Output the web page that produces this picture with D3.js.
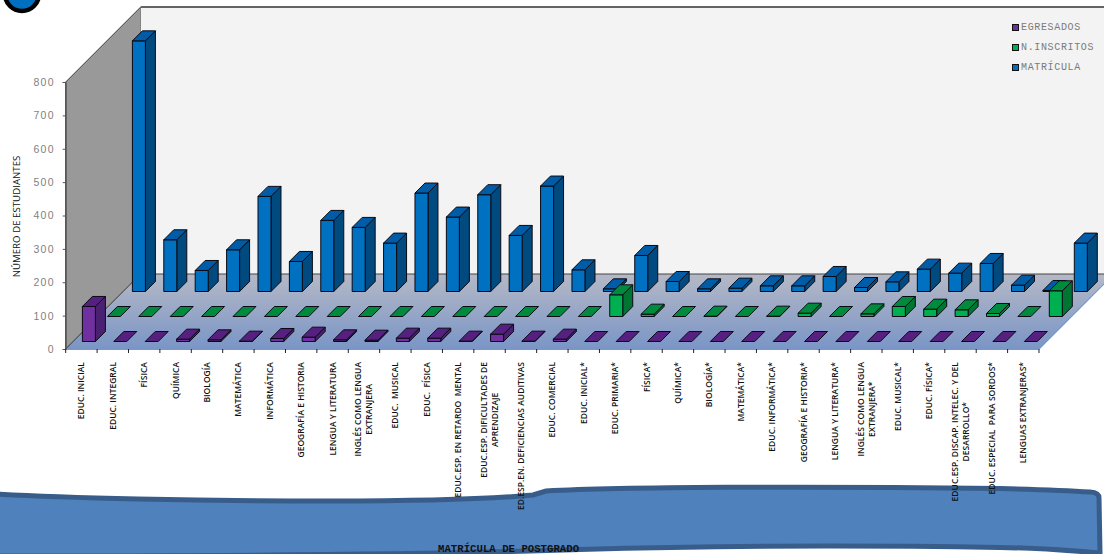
<!DOCTYPE html>
<html><head><meta charset="utf-8">
<script src="https://cdn.jsdelivr.net/npm/d3@7"></script>
<style>html,body{margin:0;padding:0;background:#fff;overflow:hidden}svg{display:block}</style>
</head><body><svg id="c" width="1104" height="554"></svg>
<script>
const categories = ["EDUC. INICIAL","EDUC. INTEGRAL","FÍSICA","QUÍMICA","BIOLOGÍA","MATEMÁTICA","INFORMÁTICA","GEOGRAFÍA E HISTORIA","LENGUA Y LITERATURA","INGLÉS COMO LENGUA\nEXTRANJERA","EDUC.  MUSICAL","EDUC.  FÍSICA","EDUC.ESP. EN RETARDO  MENTAL","EDUC.ESP. DIFICULTADES DE\nAPRENDIZAJE","ED.ESP.EN. DEFICIENCIAS AUDITIVAS","EDUC. COMERCIAL","EDUC. INICIAL*","EDUC. PRIMARIA*","FÍSICA*","QUÍMICA*","BIOLOGÍA*","MATEMÁTICA*","EDUC. INFORMÁTICA*","GEOGRAFÍA E HISTORIA*","LENGUA Y LITERATURA*","INGLÉS COMO LENGUA\nEXTRANJERA*","EDUC. MUSICAL*","EDUC. FÍSICA*","EDUC.ESP. DISCAP. INTELEC. Y DEL\nDESARROLLO*","EDUC. ESPECIAL  PARA SORDOS*","LENGUAS EXTRANJERAS*"];
const egresados = [105,0,0,7,5,1,9,13,5,4,10,10,1,22,1,7,0,0,0,0,0,0,0,0,0,0,0,0,0,0,0];
const inscritos = [0,0,0,0,0,0,0,0,0,0,0,0,0,0,0,0,65,7,0,1,0,1,10,0,8,30,22,20,9,0,77];
const matricula = [751,155,63,125,285,90,213,192,145,295,223,290,168,316,65,8,108,30,8,10,17,17,45,12,29,67,55,84,19,3,145];
const seriesNames = ["EGRESADOS","N.INSCRITOS","MATRÍCULA"];
const seriesValues = [egresados,inscritos,matricula];
const yTicks = [0,100,200,300,400,500,600,700,800];
const yTitle = "NÚMERO DE ESTUDIANTES";
const chartTitle = "MATRÍCULA DE POSTGRADO";

const faces = {
  "EGRESADOS":{front:"#7030a0",top:"#55207f",side:"#4a2070",key:"#7030a0"},
  "N.INSCRITOS":{front:"#00b050",top:"#008a3e",side:"#007433",key:"#00b050"},
  "MATRÍCULA":{front:"#0070c0",top:"#005ca6",side:"#004a80",key:"#0070c0"}
};
const svg = d3.select("#c");
const defs = svg.append("defs");
const g = defs.append("linearGradient").attr("id","floor").attr("x1",0).attr("y1",0).attr("x2",0).attr("y2",1);
g.append("stop").attr("offset",0).attr("stop-color","#b5b9c6");
g.append("stop").attr("offset",1).attr("stop-color","#7a95c6");

const x0 = 65.7, x1 = 1039, floorDepth = 75;
const x = d3.scaleBand().domain(categories).range([x0,x1]).paddingInner(0).paddingOuter(0);
const y = d3.scaleLinear().domain([0,800]).range([349,82]);
const depth = d3.scalePoint().domain(seriesNames).range([7.5,57.5]);
const barW = 13, barD = 10;
const P = pts => pts.map(p=>p.join(",")).join(" ");
const topY = y(800);

// walls
svg.append("polygon").attr("points",P([[x0,349],[x0,topY],[x0+floorDepth,topY-floorDepth],[x0+floorDepth,349-floorDepth]]))
  .attr("fill","#999999").attr("stroke","#3a3a3a").attr("stroke-width",1);
svg.append("rect").attr("x",x0+floorDepth).attr("y",topY-floorDepth).attr("width",1104-x0-floorDepth+2).attr("height",268)
  .attr("fill","#f3f3f3");
svg.append("line").attr("x1",x0+floorDepth).attr("x2",1104).attr("y1",topY-floorDepth).attr("y2",topY-floorDepth)
  .attr("stroke","#333").attr("stroke-width",1.4);
// floor
svg.append("polygon").attr("points",P([[x0,349],[x1,349],[x1+floorDepth,274],[x0+floorDepth,274]]))
  .attr("fill","url(#floor)");
svg.append("line").attr("x1",x0+floorDepth).attr("x2",1104).attr("y1",274).attr("y2",274).attr("stroke","#444").attr("stroke-width",1);
svg.append("line").attr("x1",x0).attr("x2",x1).attr("y1",349.5).attr("y2",349.5).attr("stroke","#6f9bd1").attr("stroke-width",1.2);
svg.append("line").attr("x1",x1).attr("x2",x1+floorDepth).attr("y1",349).attr("y2",274).attr("stroke","#6f9bd1").attr("stroke-width",1.2);
svg.append("line").attr("x1",x0).attr("x2",x0+floorDepth).attr("y1",349).attr("y2",274).attr("stroke","#3a3a3a").attr("stroke-width",.8);

// bars, back row first
const rows = seriesNames.map((s,i)=>({s,vals:seriesValues[i]})).reverse();
rows.forEach(r=>{
  const c = faces[r.s], d = depth(r.s);
  const grp = svg.append("g").attr("stroke","#0a0a14").attr("stroke-width",1).attr("stroke-linejoin","round");
  categories.forEach((cat,i)=>{
    const v = r.vals[i];
    const left = x(cat) + (x.bandwidth()-barW)/2 + d;
    const right = left+barW;
    const base = y(0)-d, top = y(v)-d;
    if (top<base) {
      grp.append("polygon").attr("points",P([[right,base],[right+barD,base-barD],[right+barD,top-barD],[right,top]])).attr("fill",c.side);
      grp.append("rect").attr("x",left).attr("y",top).attr("width",barW).attr("height",base-top).attr("fill",c.front);
    }
    grp.append("polygon").attr("points",P([[left,top],[right,top],[right+barD,top-barD],[left+barD,top-barD]])).attr("fill",c.top);
  });
});

// y axis
const yAxis = svg.append("g").attr("transform",`translate(${x0},0)`).call(d3.axisLeft(y).tickValues(yTicks).tickSize(3).tickPadding(8));
yAxis.select(".domain").attr("stroke","#555");
yAxis.selectAll("line").attr("stroke","#555");
yAxis.selectAll("text").attr("fill","#7f7f7f").style("font-family","'Liberation Sans',sans-serif").style("font-size","10.5px").style("letter-spacing","1.2px");
svg.append("text").attr("transform","translate(20,216.5) rotate(-90)").attr("text-anchor","middle")
  .style("font-family","'Open Sans',sans-serif").style("font-size","9.7px").attr("fill","#111").text(yTitle);

// x ticks
const tickPos = categories.map(c=>x(c)).concat([x1]);
svg.append("g").selectAll("line").data(tickPos).join("line")
  .attr("x1",d=>d).attr("x2",d=>d).attr("y1",349).attr("y2",353).attr("stroke","#222").attr("stroke-width",1);

// bottom banner (below labels)
svg.append("path").attr("d","M-6,494 C60,498 200,501 330,501 C420,501 490,499 533,495 L546,491 C620,487 800,486 1000,488.5 Q1060,490 1090,492 Q1099,492.5 1099,498 L1100,553 Q1040,548 1000,547.5 C850,545 700,546 580,549.5 C480,553 300,556 -6,556 Z")
  .attr("fill","#4f81bd").attr("stroke","#385d8a").attr("stroke-width",5);

// category labels
const labels = svg.append("g").style("font-family","'Open Sans',sans-serif").style("font-size","8.5px").style("font-weight",600).attr("fill","#111");
categories.forEach(cat=>{
  const lines = cat.split("\n");
  const cx = x(cat)+x.bandwidth()/2;
  const gl = labels.append("g").attr("transform",`translate(${cx},362) rotate(-90)`);
  const ts = lines.map((t,j)=>gl.append("text").style("white-space","pre").attr("y",(j-(lines.length-1)/2)*11+3).text(t));
  const w = d3.max(ts,t=>t.node().getComputedTextLength());
  ts.forEach(t=>t.attr("text-anchor","middle").attr("x",-w/2));
});

// legend
const legendY = d3.scalePoint().domain(seriesNames).range([27,67]);
const leg = svg.append("g").style("font-family","'Liberation Mono',monospace").style("font-size","10px");
seriesNames.forEach(s=>{
  leg.append("rect").attr("x",1012.5).attr("y",legendY(s)-2.5).attr("width",6).attr("height",6).attr("fill",faces[s].key).attr("stroke","#111").attr("stroke-width",1);
  leg.append("text").attr("x",1021).attr("y",legendY(s)+3).attr("fill","#7a7a7a").style("letter-spacing","0.65px").text(s);
});

// logo
svg.append("circle").attr("cx",22).attr("cy",-6).attr("r",17).attr("fill","#0070c0").attr("stroke","#000").attr("stroke-width",4.5);

// title
svg.append("text").attr("x",438).attr("y",551.5).style("font-family","'Liberation Mono',monospace").style("font-weight","bold").style("font-size","10.7px").attr("fill","#111").text(chartTitle);
</script></body></html>
